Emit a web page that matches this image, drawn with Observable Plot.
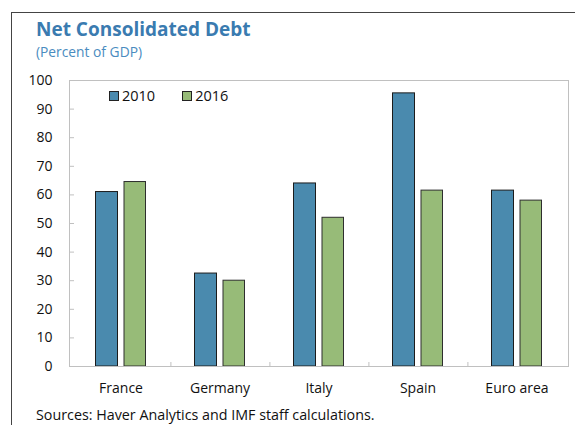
<!DOCTYPE html>
<html>
<head>
<meta charset="utf-8">
<script src="https://cdn.jsdelivr.net/npm/d3@7"></script>
<script src="https://cdn.jsdelivr.net/npm/@observablehq/plot@0.6"></script>
<style>
  html, body { margin: 0; padding: 0; background: #fff; }
  #wrap { position: relative; width: 575px; height: 425px; overflow: hidden; font-family: "Open Sans", "Noto Sans", sans-serif; }
  #border { position: absolute; left: 11px; top: 12px; width: 600px; height: 500px; border-left: 1.5px solid #444; border-top: 1.5px solid #444; }
  #title { position: absolute; left: 36px; top: 16px; font-size: 19px; font-weight: bold; color: #3a7bb0; white-space: nowrap; }
  #subtitle { position: absolute; left: 36px; top: 42px; font-size: 13.8px; color: #4a8cc0; white-space: nowrap; }
  #chart { position: absolute; left: 0; top: 70px; }
  #legend { position: absolute; left: 109px; top: 86px; font-size: 14.5px; color: #111; display: flex; gap: 0; }
  .item { display: flex; align-items: center; margin-right: 27px; }
  .sw { width: 8px; height: 8px; border: 1px solid #222; margin-right: 3px; }
  #source { position: absolute; left: 36px; top: 405px; font-size: 14.3px; color: #111; white-space: nowrap; }
</style>
</head>
<body>
<div id="wrap">
  <div id="border"></div>
  <div id="title">Net Consolidated Debt</div>
  <div id="subtitle">(Percent of GDP)</div>
  <div id="chart"></div>
  <div id="legend"></div>
  <div id="source">Sources: Haver Analytics and IMF staff calculations.</div>
</div>
<script>
const countries = ["France", "Germany", "Italy", "Spain", "Euro area"];
const debt2010 = [61, 32.5, 64, 95.5, 61.5];
const debt2016 = [64.5, 30, 52, 61.5, 58];
const years = ["2010", "2016"];
const colors = ["#4a8aae", "#97bb78"];
const yTicks = [0, 10, 20, 30, 40, 50, 60, 70, 80, 90, 100];

const rows2010 = countries.map((c, i) => ({country: c, value: debt2010[i]}));
const rows2016 = countries.map((c, i) => ({country: c, value: debt2016[i]}));

const chart = Plot.plot({
  width: 575,
  height: 335,
  marginLeft: 69,
  marginRight: 7,
  marginTop: 10,
  marginBottom: 39,
  style: {fontFamily: '"Open Sans", "Noto Sans", sans-serif', fontSize: "14px", color: "#111", background: "transparent"},
  x: {domain: countries, padding: 0, label: null},
  y: {domain: [0, 100], label: null},
  marks: [
    Plot.barY(rows2010, {x: "country", y: "value", fill: colors[0], stroke: "#1c1c1c", strokeWidth: 1, insetLeft: 24.5, insetRight: 52.5}),
    Plot.barY(rows2016, {x: "country", y: "value", fill: colors[1], stroke: "#2e2e2e", strokeWidth: 1, insetLeft: 53, insetRight: 24.5}),
    Plot.frame({stroke: "#c0c0c0"}),
    Plot.tickY(yTicks, {y: d => d, stroke: "#c0c0c0", insetRight: 494}),
    Plot.tickX(countries.slice(0, 4), {x: d => d, dx: 49.9, stroke: "#c0c0c0", insetTop: 282}),
    Plot.axisY({ticks: yTicks, tickSize: 0, tickPadding: 17}),
    Plot.axisX({tickSize: 0, tickPadding: 17})
  ]
});
document.getElementById("chart").appendChild(chart);

const legend = document.getElementById("legend");
years.forEach((yr, i) => {
  const item = document.createElement("div");
  item.className = "item";
  const sw = document.createElement("div");
  sw.className = "sw";
  sw.style.background = colors[i];
  const t = document.createElement("span");
  t.textContent = yr;
  item.appendChild(sw);
  item.appendChild(t);
  legend.appendChild(item);
});
</script>
</body>
</html>
